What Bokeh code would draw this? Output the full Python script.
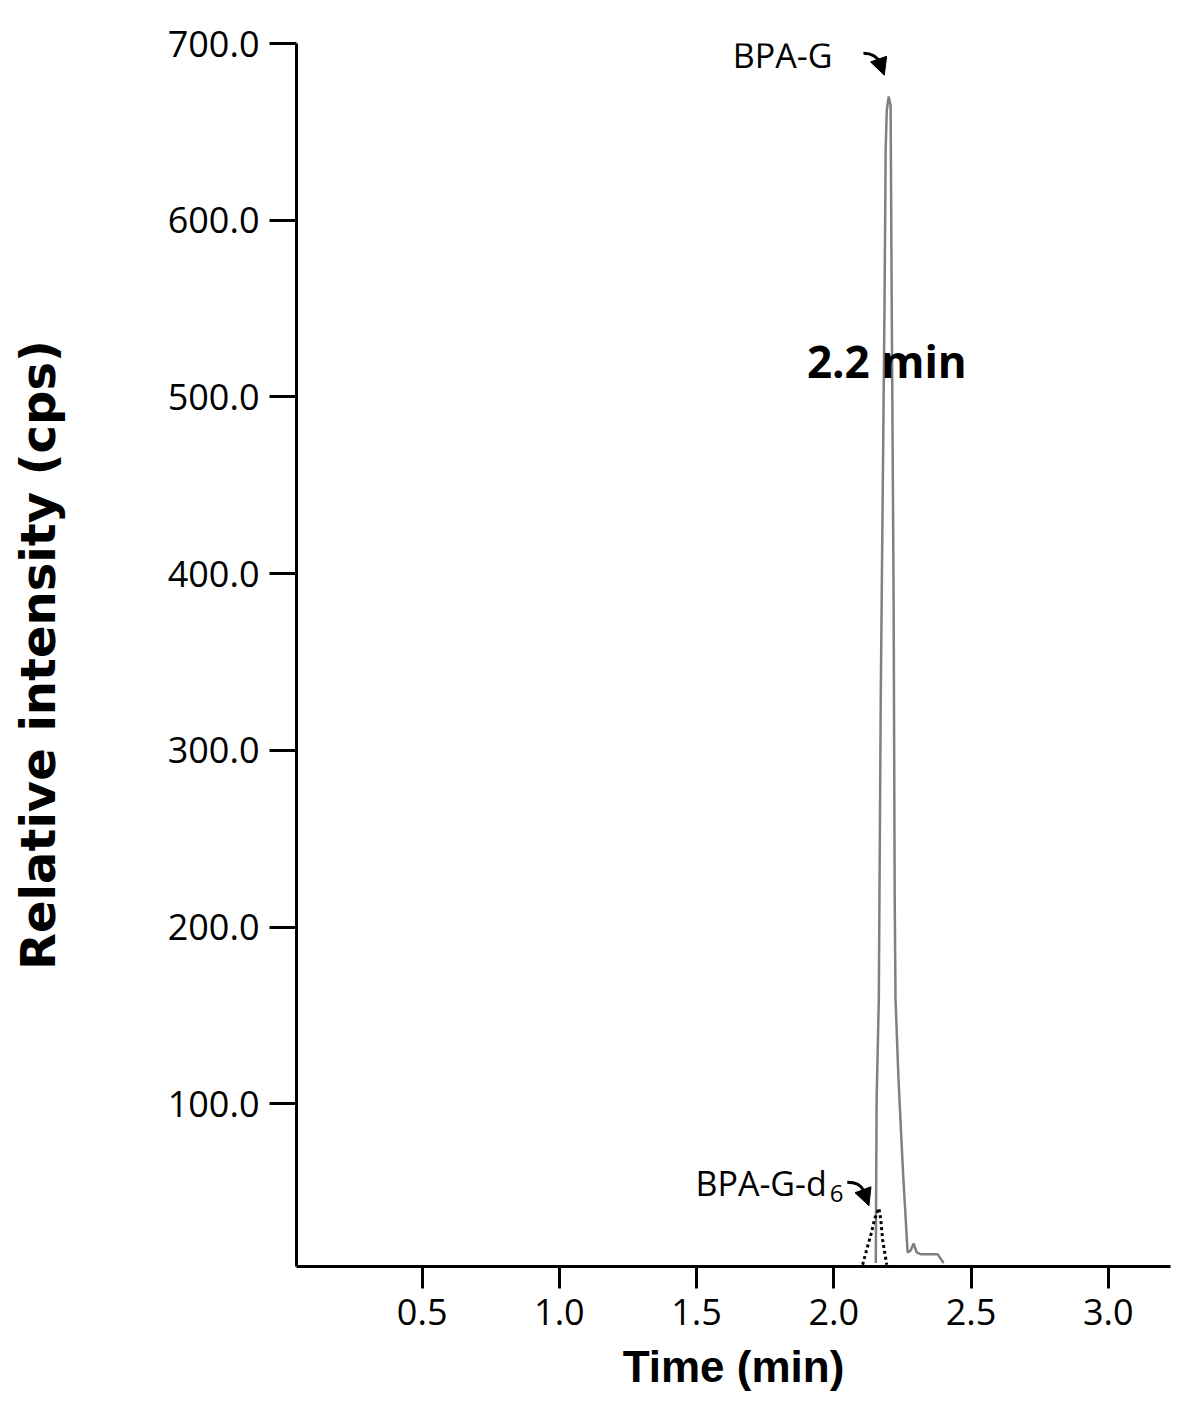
from bokeh.plotting import figure
from bokeh.models import Range1d, FixedTicker, NumeralTickFormatter, Label, Arrow, NormalHead
from bokeh.embed import file_html
from bokeh.resources import INLINE

# BPA-G trace (solid grey)
bpag_time = [2.153, 2.156, 2.164, 2.171, 2.178, 2.185, 2.189, 2.193, 2.200, 2.207, 2.209,
             2.211, 2.218, 2.222, 2.225, 2.236, 2.252, 2.269, 2.280, 2.291, 2.302, 2.316,
             2.378, 2.400]
bpag_int = [10, 102, 159, 328, 441, 555, 640, 662, 670, 665, 611,
            555, 385, 215, 159, 113, 62, 16, 17, 21, 16, 15,
            15, 10]

# BPA-G-d6 trace (dotted black)
d6_time = [2.105, 2.119, 2.137, 2.149, 2.164, 2.171, 2.178, 2.193]
d6_int = [9, 17, 27, 35, 41, 35, 23, 9]

x_ticks = [0.5, 1.0, 1.5, 2.0, 2.5, 3.0]
y_ticks = [100, 200, 300, 400, 500, 600, 700]

TICK_FONT = "Open Sans"
LABEL_FONT = "Liberation Sans"

p = figure(width=1177, height=1398, output_backend="svg", toolbar_location=None,
           x_range=Range1d(0.042, 3.227), y_range=Range1d(8, 700),
           min_border_left=296, min_border_right=7, min_border_top=43,
           min_border_bottom=132)
p.background_fill_color = "white"
p.border_fill_color = "white"
p.outline_line_color = None
p.xgrid.visible = False
p.ygrid.visible = False

for ax in (p.xaxis[0], p.yaxis[0]):
    ax.axis_line_width = 3
    ax.axis_line_color = "black"
    ax.major_tick_line_width = 3
    ax.major_tick_line_color = "black"
    ax.major_tick_in = 0
    ax.minor_tick_in = 0
    ax.minor_tick_out = 0
    ax.major_label_text_font = TICK_FONT
    ax.major_label_text_font_size = "36px"
    ax.major_label_text_color = "black"
    ax.axis_label_text_font_style = "bold"
    ax.axis_label_text_color = "black"

p.xaxis.axis_label_text_font = LABEL_FONT
p.xaxis.axis_label_text_font_size = "44px"
p.yaxis.axis_label_text_font = "DejaVu Sans"
p.yaxis.axis_label_text_font_size = "48px"

p.xaxis.ticker = FixedTicker(ticks=x_ticks)
p.yaxis.ticker = FixedTicker(ticks=y_ticks)
p.xaxis.formatter = NumeralTickFormatter(format="0.0")
p.yaxis.formatter = NumeralTickFormatter(format="0.0")
p.xaxis.major_tick_out = 22
p.yaxis.major_tick_out = 27
p.xaxis.major_label_standoff = 10
p.yaxis.major_label_standoff = 10
p.xaxis.axis_label = "Time (min)"
p.yaxis.axis_label = "Relative intensity (cps)"
p.xaxis.axis_label_standoff = 14
p.yaxis.axis_label_standoff = 99

p.line(bpag_time, bpag_int, line_color="#808080", line_width=2.5)
p.line(d6_time, d6_int, line_color="black", line_width=3, line_dash="3 3")

# Annotations
p.add_layout(Label(x=1.632, y=693.4, text="BPA-G", text_font=TICK_FONT,
                   text_font_size="34px", text_color="black", text_baseline="alphabetic"))
p.add_layout(Label(x=1.902, y=520.6, text="2.2 min", text_font=TICK_FONT,
                   text_font_size="44px", text_font_style="bold", text_color="black",
                   text_baseline="alphabetic"))
p.add_layout(Label(x=1.496, y=55.0, text="BPA-G-d", text_font=TICK_FONT,
                   text_font_size="34px", text_color="black", text_baseline="alphabetic"))
p.add_layout(Label(x=1.985, y=49.4, text="6", text_font=TICK_FONT,
                   text_font_size="24px", text_color="black", text_baseline="alphabetic"))

# Hooked arrows
p.bezier(x0=[2.108, 2.049], y0=[694.5, 55.7], x1=[2.168, 2.108], y1=[689.0, 51.0],
         cx0=[2.140, 2.080], cy0=[694.5, 55.7], cx1=[2.160, 2.100], cy1=[692.0, 54.0],
         line_color="black", line_width=3)
p.add_layout(Arrow(x_start=2.166, y_start=690.0, x_end=2.184, y_end=682.1,
                   line_color="black", line_width=3,
                   end=NormalHead(size=17, fill_color="black", line_color="black")))
p.add_layout(Arrow(x_start=2.105, y_start=52.0, x_end=2.128, y_end=42.4,
                   line_color="black", line_width=3,
                   end=NormalHead(size=17, fill_color="black", line_color="black")))

open("out.html", "w").write(file_html(p, INLINE))
